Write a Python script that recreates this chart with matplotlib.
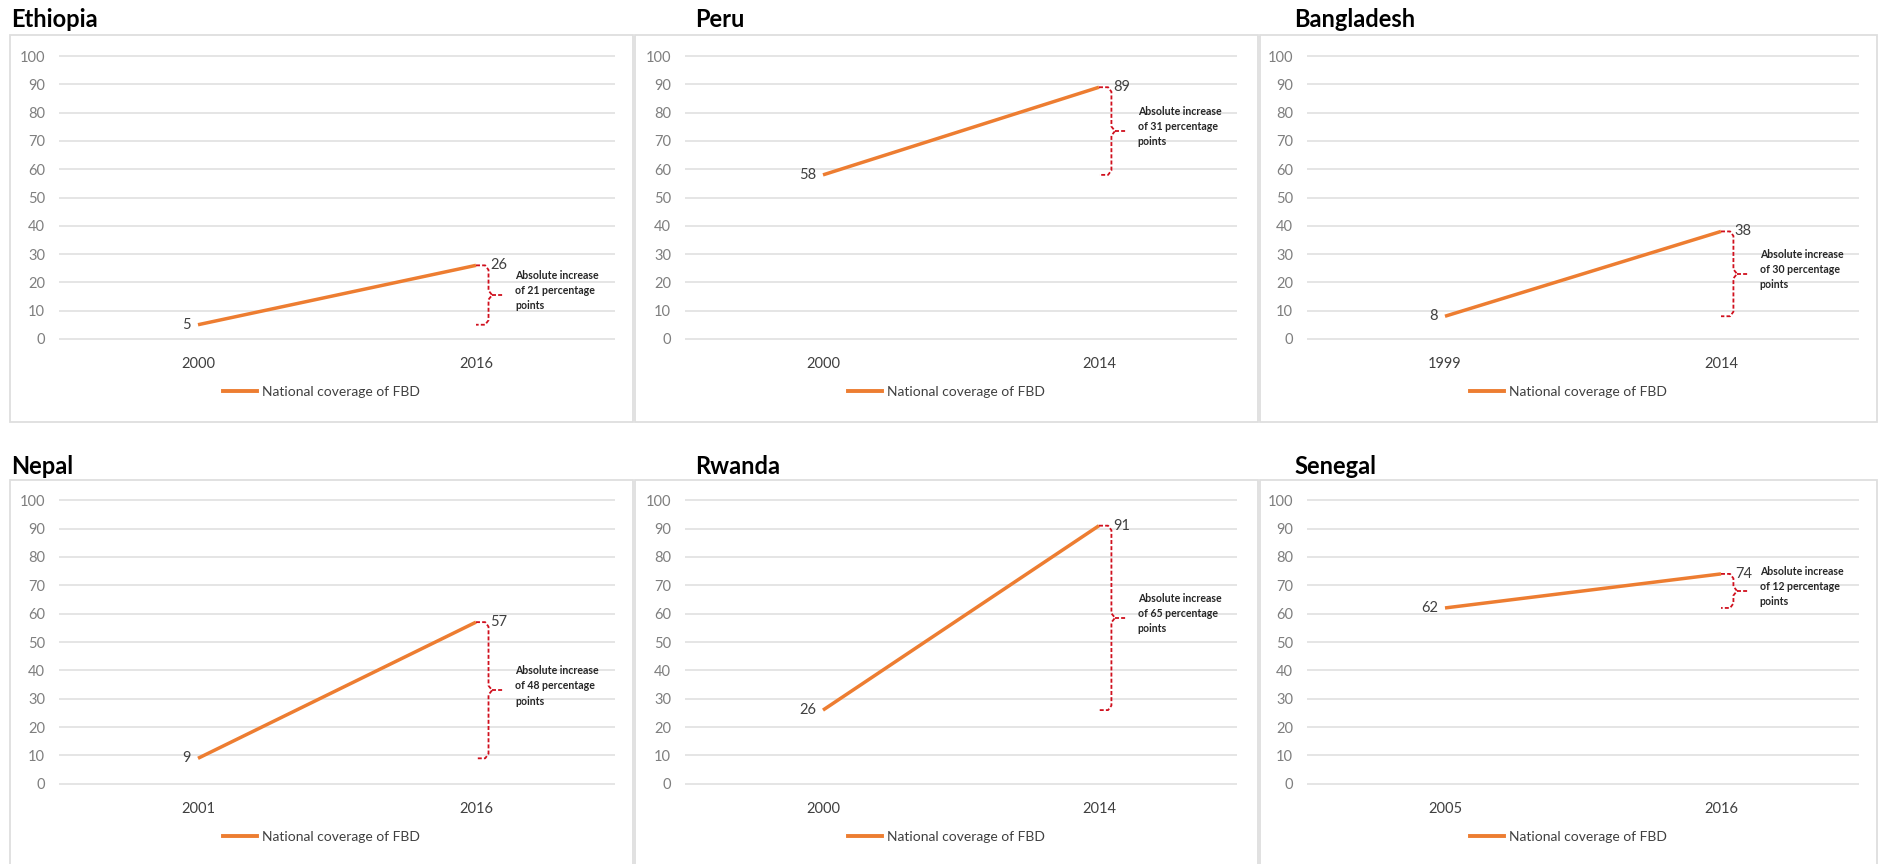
import matplotlib
matplotlib.use("Agg")
import matplotlib.pyplot as plt
from matplotlib.patches import Rectangle
from matplotlib.lines import Line2D

plt.rcParams['font.family'] = ['Lato', 'DejaVu Sans']

# data
countries = ["Ethiopia", "Peru", "Bangladesh", "Nepal", "Rwanda", "Senegal"]
start_years = ["2000", "2000", "1999", "2001", "2000", "2005"]
end_years = ["2016", "2014", "2014", "2016", "2014", "2016"]
start_vals = [5, 58, 8, 9, 26, 62]
end_vals = [26, 89, 38, 57, 91, 74]
y_ticks = [0, 10, 20, 30, 40, 50, 60, 70, 80, 90, 100]
series_name = "National coverage of FBD"

W, H = 1880, 864
ORANGE = "#ED7D31"
RED = "#D0101E"
GRID = "#DEDEDE"

fig = plt.figure(figsize=(W / 100, H / 100), dpi=100)

# pixel layout (top-based y)
col_box = [(10, 633), (635, 1258), (1260, 1877)]
col_axes = [(59, 615), (685, 1237), (1307, 1859)]
col_title = [11, 695, 1294]
row_box = [(35, 422), (480, 866)]
row_axes = [(55, 340), (499, 785)]
row_title = [27, 474]


def fx(px):
    return px / W


def fy(py):
    return 1 - py / H


for i, name in enumerate(countries):
    r, c = divmod(i, 3)
    bx0, bx1 = col_box[c]
    by0, by1 = row_box[r]
    fig.patches.append(Rectangle((fx(bx0), fy(by1)), fx(bx1 - bx0), (by1 - by0) / H,
                                 transform=fig.transFigure, fill=False,
                                 edgecolor=GRID, linewidth=1.3, zorder=0))
    fig.text(fx(col_title[c]), fy(row_title[r]), name, fontsize=17,
             fontweight='bold', color='black', va='baseline', ha='left')

    ax0, ax1 = col_axes[c]
    ay0, ay1 = row_axes[r]
    ax = fig.add_axes([fx(ax0), fy(ay1), fx(ax1 - ax0), (ay1 - ay0) / H])
    ax.set_xlim(-0.5, 1.5)
    ax.set_ylim(-0.4, 100.4)
    for s in ax.spines.values():
        s.set_visible(False)
    ax.set_yticks(y_ticks)
    ax.set_xticks([0, 1])
    ax.set_xticklabels([start_years[i], end_years[i]])
    ax.tick_params(axis='y', length=0, pad=10, labelsize=10.5, labelcolor='#7F7F7F')
    ax.tick_params(axis='x', length=0, pad=12, labelsize=10.5, labelcolor='#404040')
    ax.grid(axis='y', color=GRID, linewidth=1.1)
    ax.set_axisbelow(True)

    ax.plot([0, 1], [start_vals[i], end_vals[i]], color=ORANGE, linewidth=2.5,
            solid_capstyle='butt')
    ax.annotate(str(start_vals[i]), (0, start_vals[i]), xytext=(-5, 0),
                textcoords='offset points', ha='right', va='center',
                fontsize=10.5, color='#404040')
    ax.annotate(str(end_vals[i]), (1, end_vals[i]), xytext=(10, 0),
                textcoords='offset points', ha='left', va='center',
                fontsize=10.5, color='#404040')

    # curly bracket showing the increase
    top, bot = end_vals[i], start_vals[i]
    mid = (top + bot) / 2
    d = 1.6
    bx = [1.0, 1.033, 1.045, 1.045, 1.058, 1.045, 1.045, 1.033, 1.0]
    by = [top, top, top - d, mid + d, mid, mid - d, bot + d, bot, bot]
    ax.plot(bx, by, color=RED, linewidth=1.3, linestyle=(0, (2.2, 1.2)),
            clip_on=False)
    ax.plot([1.058, 1.1], [mid, mid], color=RED, linewidth=1.3,
            linestyle=(0, (2.2, 1.2)), clip_on=False)
    ax.text(1.14, mid + 1.5,
            "Absolute increase\nof %d percentage\npoints" % (top - bot),
            fontsize=7.6, fontweight='bold', color='#262626', ha='left',
            va='center', linespacing=1.45)

    # legend centred in the panel box
    handle = Line2D([0], [0], color=ORANGE, linewidth=2.8)
    fig.legend([handle], [series_name], loc='center',
               bbox_to_anchor=(fx((bx0 + bx1) / 2), fy(ay1 + 52)),
               frameon=False, fontsize=10, handlelength=2.45,
               handletextpad=0.3, labelcolor='#404040',
               borderpad=0, borderaxespad=0)

fig.savefig("out.png", dpi=100)
